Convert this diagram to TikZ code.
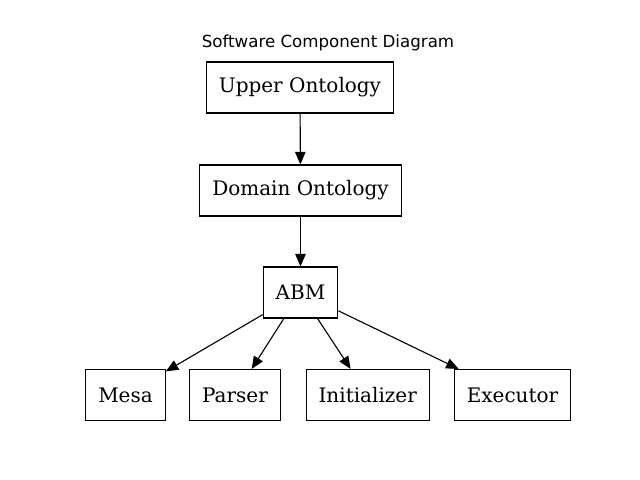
\documentclass[tikz,border=0pt]{standalone}
\usepackage{fontspec}
\setmainfont{DejaVu Serif}
\newfontfamily\titlefont{DejaVu Sans}
\usetikzlibrary{arrows.meta,positioning}

\begin{document}
\begin{tikzpicture}[x=0.72pt,y=-0.72pt,
    comp/.style={draw, line width=0.8pt, rectangle, minimum height=36.7pt,
        inner xsep=9pt, font=\fontsize{14.4}{17}\selectfont},
    link/.style={-{Triangle[length=9pt,width=7.5pt]}, line width=0.8pt}]
    \useasboundingbox (0,0) rectangle (640,480);
    % Title
    \node[font=\titlefont\fontsize{12}{14}\selectfont] (title) at (328,43) {Software Component Diagram};
    % Stack
    \node[comp] (upper) at (300,87.5) {Upper Ontology};
    \node[comp] (domain) at (300.5,190.5) {Domain Ontology};
    \node[comp] (abm) at (300.5,292.5) {ABM};
    % Bottom row
    \node[comp] (mesa) at (125.5,395) {Mesa};
    \node[comp] (parser) at (235,395) {Parser};
    \node[comp] (init) at (367.7,395) {Initializer};
    \node[comp] (exec) at (512.5,395) {Executor};
    % Edges
    \draw[link] (upper) -- (domain);
    \draw[link] (domain) -- (abm);
    \foreach \t in {mesa, parser, init, exec}
        \draw[link] (abm) -- (\t);
\end{tikzpicture}
\end{document}
